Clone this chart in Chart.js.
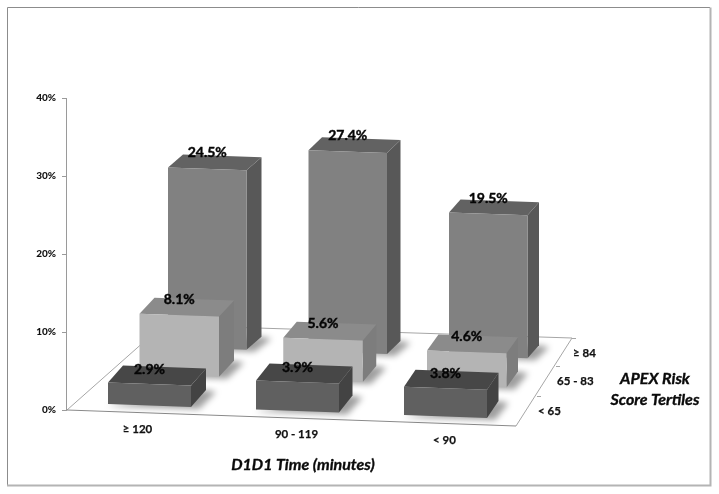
<!DOCTYPE html>
<html>
<head>
<meta charset="utf-8">
<style>html,body{margin:0;padding:0;background:#fff}canvas{display:block}</style>
<script src="https://cdn.jsdelivr.net/npm/chart.js@4"></script>
</head>
<body>
<canvas id="c" width="719" height="494"></canvas>
<script>
const timeCategories = ['≥ 120', '90 - 119', '< 90'];
const riskTertiles = ['< 65', '65 - 83', '≥ 84'];
const lowRisk = [2.9, 3.9, 3.8];
const midRisk = [8.1, 5.6, 4.6];
const highRisk = [24.5, 27.4, 19.5];
const yTickStep = 10;
const yMax = 40;
const xTitle = 'D1D1 Time (minutes)';
const zTitle = ['APEX Risk', 'Score Tertiles'];

/* view projection of the pseudo-3D scene (row 0 = front) */
const rowLeft = [108, 139.5, 168];
const rowStep = [148, 143.75, 140.5];
const rowWidth = [83, 79.5, 78.5];
const rowBase = [404, 374, 347];
const rowBaseStep = [5.5, 5.3, 4.2];
const rowScale = [0.968, 0.962, 0.942];
const rowDepthY = [-17, -16, -13];
const colDepthX = [15, 13.5, 11.5];
const rowLabelY = [3.5, 2, -1.5];
const faceSlope = 0.035;
const topColors = ['#474747', '#8b8b8b', '#626262'];
const sideColors = ['#434343', '#7d7d7d', '#585858'];

function quad(ctx, pts, fill) {
  ctx.beginPath();
  pts.forEach((p, i) => i ? ctx.lineTo(p[0], p[1]) : ctx.moveTo(p[0], p[1]));
  ctx.closePath();
  ctx.fillStyle = fill;
  ctx.fill();
}

function barGeometry(row, col, el) {
  const h = (el.base - el.y) * rowScale[row];
  const x0 = rowLeft[row] + col * rowStep[row];
  const w = rowWidth[row];
  const yb = rowBase[row] + col * rowBaseStep[row];
  return {x0, w, yb, h, s: faceSlope * w, dx: colDepthX[col], dy: rowDepthY[row]};
}

function heavyText(c, text, x, y, weight) {
  c.lineWidth = weight;
  c.strokeStyle = c.fillStyle;
  c.strokeText(text, x, y);
  c.fillText(text, x, y);
}

const scene3d = {
  id: 'scene3d',
  beforeDatasetsDraw(chart) {
    const c = chart.ctx;
    c.save();
    /* outer frame */
    c.lineWidth = 1;
    c.strokeStyle = '#8c8c8c';
    c.beginPath();
    c.moveTo(7.5, 485); c.lineTo(7.5, 7.5); c.lineTo(710, 7.5);
    c.stroke();
    c.lineWidth = 2;
    c.strokeStyle = '#b4b4b4';
    c.beginPath();
    c.moveTo(710.5, 7.5); c.lineTo(710.5, 485.5); c.lineTo(7, 485.5);
    c.stroke();
    /* floor */
    const FL = [67, 410], FR = [516, 426], BR = [572, 338], BL = [163, 325];
    c.lineWidth = 1;
    c.strokeStyle = '#a6a6a6';
    c.beginPath();
    c.moveTo(FL[0], FL[1]); c.lineTo(BL[0], BL[1]); c.lineTo(BR[0], BR[1]); c.lineTo(FR[0], FR[1]);
    c.stroke();
    c.strokeStyle = '#8a8a8a';
    c.beginPath();
    c.moveTo(FL[0], FL[1]); c.lineTo(FR[0], FR[1]);
    c.stroke();
    /* depth ticks + labels */
    const ticks = [[537, 396], [556, 366], [572, 338]];
    c.strokeStyle = '#a6a6a6';
    c.fillStyle = '#111';
    c.font = 'bold 11.5px Lato';
    c.textAlign = 'left';
    c.textBaseline = 'middle';
    ticks.forEach((t, i) => {
      c.lineWidth = 1;
      c.strokeStyle = '#a6a6a6';
      c.beginPath(); c.moveTo(t[0], t[1] + 0.5); c.lineTo(t[0] + 4, t[1] + 0.5); c.stroke();
      heavyText(c, riskTertiles[i], t[0] + 1, t[1] + 15, 0.25);
    });
    /* category labels */
    const front = chart.getDatasetMeta(0).data;
    const xLabelDx = [-12, -1, -1];
    c.textAlign = 'center';
    timeCategories.forEach((lab, col) => {
      const g = barGeometry(0, col, front[col]);
      heavyText(c, lab, g.x0 + g.w / 2 + xLabelDx[col], g.yb + 25, 0.25);
    });
    /* titles */
    c.font = 'italic bold 16px Lato';
    c.fillStyle = '#0a0a0a';
    heavyText(c, xTitle, 303, 465, 0.35);
    zTitle.forEach((t, i) => heavyText(c, t, 655, 379 + i * 21, 0.35));
    c.restore();
  },
  beforeDatasetDraw(chart, args) {
    const c = chart.ctx;
    const row = args.index;
    args.meta.data.forEach((el, col) => {
      const g = barGeometry(row, col, el);
      const x1 = g.x0 + g.w;
      const tl = [g.x0, g.yb - g.h], tr = [x1, g.yb - g.h + g.s];
      const bl = [g.x0, g.yb], br = [x1, g.yb + g.s];
      const d = (p) => [p[0] + g.dx, p[1] + g.dy];
      /* soft floor shadow */
      c.save();
      c.filter = 'blur(3px)';
      quad(c, [[bl[0] - 1, bl[1] + 2], [br[0] + 8, br[1] + 2], [d(br)[0] + 10, d(br)[1] + 2], d(br)], 'rgba(0,0,0,0.38)');
      c.restore();
      /* side and top faces */
      quad(c, [tr, d(tr), d(br), br], sideColors[row]);
      quad(c, [tl, tr, d(tr), d(tl)], topColors[row]);
      /* front face: the library's own bar, sheared onto the projected plane */
      const props = el.getProps(['x', 'y', 'base', 'width']);
      const L = props.x - props.width / 2;
      const a = g.w / props.width;
      const b = g.s / props.width;
      const k = rowScale[row];
      c.save();
      c.transform(a, b, 0, k, g.x0 - a * L, g.yb - b * L - k * props.base);
      el.draw(c);
      c.restore();
    });
    return false;
  },
  afterDatasetsDraw(chart) {
    const c = chart.ctx;
    c.save();
    c.font = 'bold 14px Lato';
    c.fillStyle = '#050505';
    c.textAlign = 'center';
    c.textBaseline = 'middle';
    chart.data.datasets.forEach((ds, row) => {
      const els = chart.getDatasetMeta(row).data;
      ds.data.forEach((v, col) => {
        const g = barGeometry(row, col, els[col]);
        heavyText(c, v.toFixed(1) + '%', g.x0 + g.w / 2, g.yb - g.h + g.dy + rowLabelY[row], 0.4);
      });
    });
    c.restore();
  }
};

new Chart(document.getElementById('c'), {
  type: 'bar',
  data: {
    labels: timeCategories,
    datasets: [
      {label: riskTertiles[0], data: lowRisk, backgroundColor: '#606060'},
      {label: riskTertiles[1], data: midRisk, backgroundColor: '#b4b4b4'},
      {label: riskTertiles[2], data: highRisk, backgroundColor: '#818181'}
    ]
  },
  options: {
    responsive: false,
    devicePixelRatio: 1,
    animation: false,
    events: [],
    layout: {padding: {left: 0, top: 98, right: 189, bottom: 84}},
    plugins: {legend: {display: false}, title: {display: false}, tooltip: {enabled: false}},
    datasets: {bar: {grouped: false, borderWidth: 0, categoryPercentage: 0.7, barPercentage: 0.8}},
    scales: {
      x: {display: false, title: {display: false, text: xTitle}},
      y: {
        min: 0, max: yMax,
        afterFit(s) { s.width = 66; },
        ticks: {
          stepSize: yTickStep,
          padding: 6,
          color: '#111',
          font: {family: 'Lato', size: 10, weight: '900'},
          callback: (v) => v + '%'
        },
        border: {color: '#9a9a9a'},
        grid: {drawOnChartArea: false, drawTicks: true, tickLength: 4, color: '#9a9a9a'}
      }
    }
  },
  plugins: [scene3d]
});
</script>
</body>
</html>
